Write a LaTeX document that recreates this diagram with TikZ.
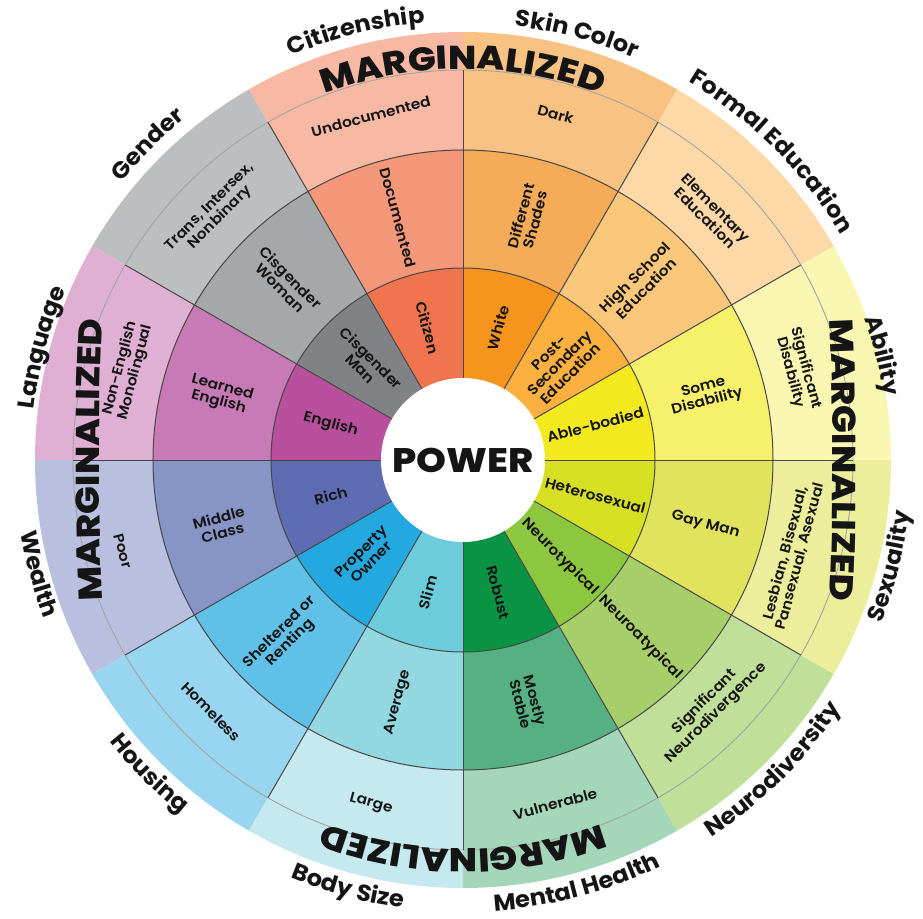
\documentclass[tikz,border=0pt]{standalone}
\usepackage{fontspec}
\setmainfont{Poppins}
\newfontfamily\semib{Poppins SemiBold}[FakeStretch=1.08]
\newfontfamily\catfam{Poppins Bold}[FakeStretch=1.05]
\newfontfamily\margfam{Poppins ExtraBold}[FakeStretch=1.12]
\usetikzlibrary{decorations.text}

\definecolor{abA}{HTML}{F2EA1F}\definecolor{abB}{HTML}{F6F06B}\definecolor{abC}{HTML}{FAF7B3}
\definecolor{feA}{HTML}{FBB040}\definecolor{feB}{HTML}{FBC77A}\definecolor{feC}{HTML}{FCD9A6}
\definecolor{skA}{HTML}{F7941E}\definecolor{skB}{HTML}{F6AB59}\definecolor{skC}{HTML}{F8C282}
\definecolor{ciA}{HTML}{F0754F}\definecolor{ciB}{HTML}{F59879}\definecolor{ciC}{HTML}{F7B9A3}
\definecolor{geA}{HTML}{808285}\definecolor{geB}{HTML}{A6A7A9}\definecolor{geC}{HTML}{BDBEC0}
\definecolor{laA}{HTML}{B8509E}\definecolor{laB}{HTML}{C87AB7}\definecolor{laC}{HTML}{DFB0D3}
\definecolor{weA}{HTML}{5E6DB3}\definecolor{weB}{HTML}{8794C6}\definecolor{weC}{HTML}{B9C0DF}
\definecolor{hoA}{HTML}{23A8E0}\definecolor{hoB}{HTML}{5FC0E8}\definecolor{hoC}{HTML}{98D5F0}
\definecolor{boA}{HTML}{6DCCDB}\definecolor{boB}{HTML}{93D8E1}\definecolor{boC}{HTML}{C6E9EF}
\definecolor{meA}{HTML}{0B9345}\definecolor{meB}{HTML}{55B181}\definecolor{meC}{HTML}{A4D6BA}
\definecolor{neA}{HTML}{8DC63F}\definecolor{neB}{HTML}{A6CF6A}\definecolor{neC}{HTML}{C0DF99}
\definecolor{seA}{HTML}{D7DF23}\definecolor{seB}{HTML}{E2E35C}\definecolor{seC}{HTML}{ECEE9B}
\definecolor{ink}{HTML}{151515}

\newcommand\catfont{\catfam\fontsize{23}{23}\selectfont}
\newcommand\margfont{\margfam\fontsize{33}{33}\selectfont}
% clockwise text, tops outward
\newcommand\cwtext[4]{\path[decorate,decoration={text along path,text={|#4|#3},text align=center,text color=ink}]
  ({#1+45}:#2) arc[start angle={#1+45},end angle={#1-45},radius=#2];}
% counterclockwise text, tops inward
\newcommand\ccwtext[4]{\path[decorate,decoration={text along path,text={|#4|#3},text align=center,text color=ink}]
  ({#1-45}:#2) arc[start angle={#1-45},end angle={#1+45},radius=#2];}
% nearly straight clockwise text on a large arc centred at (#1,0)
\newcommand\sidetext[3]{\path[shift={(#1,0)},decorate,decoration={text along path,text={|\margfont|#3},text align=center,text color=ink}]
  ({#2+6}:3000) arc[start angle={#2+6},end angle={#2-6},radius=3000];}

\begin{document}
\begin{tikzpicture}[x=1pt,y=1pt,
  lbl/.style={font=\semib\fontsize{14.3}{15}\selectfont,align=center,inner sep=0pt,text=ink},
  sepline/.style={draw=black!72,line width=1pt},
  thinring/.style={draw=black!36,line width=0.9pt},
  powerlbl/.style={font=\margfam\fontsize{34}{34}\selectfont,text=ink,inner sep=0pt}]
\useasboundingbox (-463,-458) rectangle (460,460);

% sector fills
\foreach \i/\ca/\cb/\cc in {0/abA/abB/abC,1/feA/feB/feC,2/skA/skB/skC,3/ciA/ciB/ciC,
  4/geA/geB/geC,5/laA/laB/laC,6/weA/weB/weC,7/hoA/hoB/hoC,8/boA/boB/boC,
  9/meA/meB/meC,10/neA/neB/neC,11/seA/seB/seC}{
  \pgfmathsetmacro\a{30*\i}
  \pgfmathsetmacro\b{30*\i+30}
  \fill[\cc] (0,0) -- (\a:428) arc[start angle=\a,end angle=\b,radius=428] -- cycle;
  \fill[\cb] (0,0) -- (\a:310) arc[start angle=\a,end angle=\b,radius=310] -- cycle;
  \fill[\ca] (0,0) -- (\a:192) arc[start angle=\a,end angle=\b,radius=192] -- cycle;
}

% ring and sector lines
\draw[thinring] (0,0) circle[radius=390];
\draw[sepline] (0,0) circle[radius=192];
\draw[sepline] (0,0) circle[radius=310];
\foreach \k in {0,...,11}{
  \draw[sepline] ({30*\k}:82) -- ({30*\k}:390);
}
\fill[white] (0,0) circle[radius=82];
\node[powerlbl] (power) at (0,0) {POWER};

% ring labels
\foreach \i/\la/\lb/\lc/\rr/\dm in {
  0/Able-bodied/{Some\\Disability}/{Significant\\Disability}/347/0,
  1/{Post-\\Secondary\\Education}/{High School\\Education}/{Elementary\\Education}/350/0,
  2/White/{Different\\Shades}/Dark/358/0,
  3/Citizen/Documented/Undocumented/356/0,
  4/{Cisgender\\Man}/{Cisgender\\Woman}/{Trans, Intersex,\\Nonbinary}/350/0,
  5/English/{Learned\\English}/{Non-English\\Monolingual}/347/0,
  6/Rich/{Middle\\Class}/Poor/352/0,
  7/{Property\\Owner}/{Sheltered or\\Renting}/Homeless/356/0,
  8/Slim/Average/Large/356/0,
  9/Robust/{Mostly\\Stable}/Vulnerable/356/0,
  10/Neurotypical/Neuroatypical/{Significant\\Neurodivergence}/350/0,
  11/Heterosexual/Gay Man/{Lesbian, Bisexual,\\Pansexual, Asexual}/343/-1}{
  \pgfmathsetmacro\m{30*\i+15}
  \pgfmathsetmacro\mc{\m+\dm}
  \pgfmathsetmacro\ra{ifthenelse(or(\m<90,\m>270),\m,\m-180)}
  \pgfmathsetmacro\rc{ifthenelse(\m<180,\m-90,\m+90)}
  \node[lbl,rotate=\ra] (p\i) at (\m:137) {\la};
  \node[lbl,rotate=\ra] (q\i) at (\m:251) {\lb};
  \node[lbl,rotate=\rc] (r\i) at (\mc:\rr) {\lc};
}

% MARGINALIZED
\cwtext{90}{391}{MARGINALIZED}{\margfont}
\cwtext{270}{389}{MARGINALIZED}{\margfont}
\sidetext{-2630}{0}{MARGINALIZED}
\sidetext{2636}{180}{MARGINALIZED}

% category labels
\cwtext{14}{426}{Ability}{\catfont}
\cwtext{45}{440}{Formal Education}{\catfont}
\cwtext{75}{437}{Skin Color}{\catfont}
\cwtext{104}{439}{Citizenship}{\catfont}
\cwtext{135}{440}{Gender}{\catfont}
\cwtext{165}{432}{Language}{\catfont}
\ccwtext{195}{448}{Wealth}{\catfont}
\ccwtext{225}{452}{Housing}{\catfont}
\ccwtext{255}{452}{Body Size}{\catfont}
\ccwtext{285}{452}{Mental Health}{\catfont}
\ccwtext{315}{452}{Neurodiversity}{\catfont}
\ccwtext{346}{449}{Sexuality}{\catfont}
\end{tikzpicture}
\end{document}
